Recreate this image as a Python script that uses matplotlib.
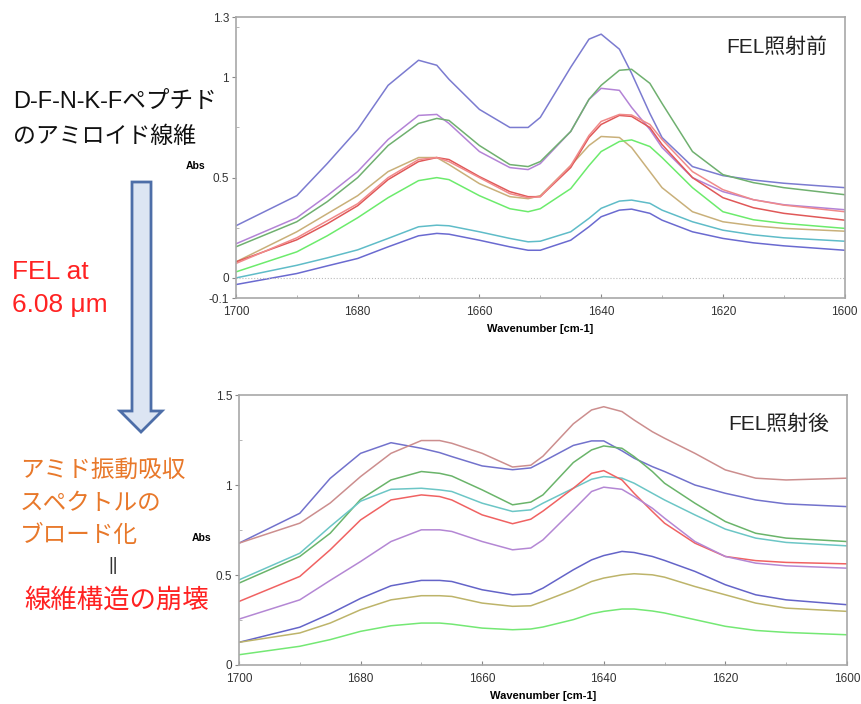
import numpy as np
import matplotlib
matplotlib.use("Agg")
import matplotlib.pyplot as plt
from matplotlib.patches import Polygon
from matplotlib.ticker import MultipleLocator

plt.rcParams['font.family'] = ['Liberation Sans', 'Noto Sans CJK JP', 'DejaVu Sans']

# wavenumber grid (cm-1)
wn = [1700, 1690, 1685, 1680, 1675, 1670, 1667, 1665, 1660, 1655, 1652, 1650,
      1645, 1642, 1640, 1637, 1635, 1632, 1630, 1625, 1620, 1615, 1610, 1600]

# --- before FEL irradiation ---
before_a = [0.26, 0.41, 0.57, 0.74, 0.96, 1.085, 1.06, 0.99, 0.84, 0.75, 0.75, 0.80,
            1.05, 1.19, 1.215, 1.14, 1.02, 0.82, 0.70, 0.555, 0.51, 0.488, 0.472, 0.45]
before_b = [0.17, 0.30, 0.41, 0.53, 0.69, 0.81, 0.815, 0.77, 0.63, 0.55, 0.54, 0.57,
            0.73, 0.89, 0.945, 0.935, 0.85, 0.74, 0.65, 0.50, 0.43, 0.39, 0.365, 0.34]
before_c = [0.155, 0.28, 0.38, 0.50, 0.66, 0.77, 0.795, 0.785, 0.66, 0.565, 0.555, 0.58,
            0.73, 0.89, 0.96, 1.035, 1.04, 0.97, 0.87, 0.63, 0.515, 0.475, 0.45, 0.415]
before_d = [0.08, 0.23, 0.32, 0.41, 0.53, 0.60, 0.60, 0.565, 0.47, 0.405, 0.395, 0.41,
            0.56, 0.66, 0.705, 0.70, 0.65, 0.53, 0.45, 0.33, 0.28, 0.26, 0.247, 0.233]
before_e = [0.08, 0.19, 0.27, 0.36, 0.49, 0.58, 0.60, 0.59, 0.505, 0.43, 0.405, 0.405,
            0.55, 0.70, 0.765, 0.81, 0.805, 0.75, 0.665, 0.50, 0.40, 0.35, 0.322, 0.288]
before_f = [0.072, 0.20, 0.285, 0.37, 0.50, 0.59, 0.60, 0.58, 0.50, 0.42, 0.40, 0.405,
            0.56, 0.71, 0.78, 0.815, 0.812, 0.765, 0.69, 0.53, 0.44, 0.39, 0.363, 0.33]
before_g = [0.03, 0.13, 0.21, 0.30, 0.40, 0.485, 0.50, 0.49, 0.41, 0.345, 0.33, 0.345,
            0.445, 0.56, 0.63, 0.68, 0.688, 0.655, 0.60, 0.45, 0.33, 0.29, 0.272, 0.247]
before_h = [0.0, 0.063, 0.10, 0.14, 0.197, 0.255, 0.263, 0.26, 0.23, 0.197, 0.18, 0.183,
            0.23, 0.297, 0.347, 0.383, 0.388, 0.372, 0.338, 0.28, 0.238, 0.215, 0.20, 0.183]
before_i = [-0.033, 0.022, 0.06, 0.097, 0.155, 0.21, 0.222, 0.218, 0.188, 0.155, 0.138, 0.138,
            0.188, 0.255, 0.305, 0.338, 0.343, 0.322, 0.288, 0.23, 0.197, 0.175, 0.16, 0.138]
before_colors = ['#7b7bd0', '#b383d6', '#6fb06f', '#c9b07a', '#e05858', '#f08a8a',
                 '#6ceb6c', '#5fbcc8', '#6a6ad0']

# --- after FEL irradiation ---
after_p = [0.677, 0.843, 1.037, 1.176, 1.235, 1.204, 1.18, 1.158, 1.106, 1.085, 1.095, 1.13,
           1.22, 1.245, 1.245, 1.19, 1.149, 1.102, 1.075, 1.0, 0.954, 0.917, 0.895, 0.88]
after_q = [0.677, 0.788, 0.9, 1.047, 1.176, 1.247, 1.247, 1.232, 1.176, 1.10, 1.11, 1.16,
           1.34, 1.417, 1.435, 1.408, 1.361, 1.296, 1.26, 1.176, 1.084, 1.038, 1.028, 1.038]
after_r = [0.455, 0.603, 0.732, 0.92, 1.028, 1.075, 1.065, 1.05, 0.973, 0.89, 0.905, 0.945,
           1.125, 1.195, 1.217, 1.204, 1.158, 1.075, 1.01, 0.899, 0.797, 0.732, 0.705, 0.686]
after_s = [0.473, 0.621, 0.769, 0.91, 0.976, 0.982, 0.973, 0.964, 0.899, 0.853, 0.862, 0.899,
           0.982, 1.032, 1.047, 1.038, 1.01, 0.954, 0.917, 0.834, 0.755, 0.705, 0.681, 0.662]
after_t = [0.353, 0.492, 0.64, 0.806, 0.917, 0.945, 0.936, 0.917, 0.834, 0.785, 0.81, 0.855,
           0.982, 1.065, 1.08, 1.028, 0.954, 0.853, 0.788, 0.677, 0.603, 0.58, 0.57, 0.562]
after_u = [0.255, 0.362, 0.47, 0.575, 0.686, 0.751, 0.751, 0.742, 0.686, 0.64, 0.65, 0.695,
           0.862, 0.964, 0.988, 0.976, 0.936, 0.871, 0.816, 0.686, 0.603, 0.566, 0.551, 0.538]
after_v = [0.126, 0.21, 0.285, 0.37, 0.44, 0.47, 0.47, 0.464, 0.418, 0.39, 0.396, 0.427,
           0.529, 0.584, 0.608, 0.631, 0.625, 0.603, 0.581, 0.52, 0.446, 0.39, 0.362, 0.335]
after_w = [0.126, 0.178, 0.233, 0.307, 0.362, 0.385, 0.385, 0.381, 0.344, 0.326, 0.329, 0.353,
           0.418, 0.464, 0.483, 0.501, 0.507, 0.501, 0.488, 0.436, 0.39, 0.344, 0.316, 0.298]
after_x = [0.057, 0.104, 0.141, 0.187, 0.218, 0.233, 0.233, 0.227, 0.205, 0.196, 0.2, 0.211,
           0.252, 0.285, 0.298, 0.311, 0.311, 0.3, 0.289, 0.252, 0.215, 0.192, 0.181, 0.168]
after_colors = ['#7272cc', '#cc8e8e', '#6ab46a', '#6cc6c6', '#f06262', '#b487d4',
                '#6464c8', '#bdb46a', '#74e874']

before = [before_a, before_b, before_c, before_d, before_e, before_f, before_g, before_h, before_i]
after = [after_p, after_q, after_r, after_s, after_t, after_u, after_v, after_w, after_x]

fig = plt.figure(figsize=(8.61, 7.04), dpi=100)
ax1 = fig.add_axes([0.274, 0.5767, 0.707, 0.399])
ax2 = fig.add_axes([0.2776, 0.0554, 0.706, 0.3835])

def style_axes(ax, yticks, ylabels, ylim):
    ax.set_xlim(1700, 1600)
    ax.set_ylim(*ylim)
    ax.set_xticks([1700, 1680, 1660, 1640, 1620, 1600])
    ax.xaxis.set_minor_locator(MultipleLocator(10))
    ax.set_yticks(yticks)
    ax.set_yticklabels(ylabels)
    ax.yaxis.set_minor_locator(MultipleLocator(0.25))
    for s in ax.spines.values():
        s.set_color('#a8a8a8')
        s.set_linewidth(1.2)
    ax.tick_params(axis='x', direction='in', length=3, color='#888888',
                   labelsize=8.5, labelcolor='#333333', pad=6)
    ax.tick_params(axis='x', which='minor', direction='in', length=2, color='#aaaaaa')
    ax.tick_params(axis='y', direction='out', length=3, color='#888888',
                   labelsize=8.5, labelcolor='#333333', pad=2)
    ax.tick_params(axis='y', which='minor', direction='in', length=2, color='#aaaaaa')
    ax.set_xlabel('Wavenumber [cm-1]', fontsize=8, fontweight='bold', labelpad=4)

for vals, col in zip(before, before_colors):
    ax1.plot(wn, vals, color=col, linewidth=1.1)
ax1.axhline(0, color='#bbbbbb', linewidth=0.8, linestyle=':')
style_axes(ax1, [-0.1, 0, 0.5, 1, 1.3], ['-0.1', '0', '0.5', '1', '1.3'], (-0.1, 1.3))
ax1.text(0.971, 0.892, 'FEL照射前', transform=ax1.transAxes, ha='right', va='center',
         fontsize=15, color='#222222')

for vals, col in zip(after, after_colors):
    ax2.plot(wn, vals, color=col, linewidth=1.1)
style_axes(ax2, [0, 0.5, 1, 1.5], ['0', '0.5', '1', '1.5'], (0, 1.5))
ax2.text(0.971, 0.89, 'FEL照射後', transform=ax2.transAxes, ha='right', va='center',
         fontsize=15, color='#222222')

# "Abs" labels
fig.text(196 / 861, 1 - 166 / 704, 'Abs', ha='center', va='center', fontsize=7.5, fontweight='bold')
fig.text(202 / 861, 1 - 538 / 704, 'Abs', ha='center', va='center', fontsize=7.5, fontweight='bold')

# left annotation texts
def ftext(x, y, s, **kw):
    fig.text(x / 861, 1 - y / 704, s, va='center', ha='left', **kw)

ftext(13, 102, 'D-F-N-K-Fペプチド', fontsize=17, color='#111111')
ftext(13, 136, 'のアミロイド線維', fontsize=16.5, color='#111111')
ftext(12, 272, 'FEL at', fontsize=19, color='#ff2222')
ftext(12, 305, '6.08 \u03bcm', fontsize=19, color='#ff2222')
ftext(20, 471, 'アミド振動吸収', fontsize=17, color='#e8782a')
ftext(20, 504, 'スペクトルの', fontsize=17, color='#e8782a')
ftext(20, 536, 'ブロード化', fontsize=17, color='#e8782a')
fig.text(113 / 861, 1 - 566 / 704, '||', ha='center', va='center', fontsize=13, color='#333333')
ftext(24, 600, '線維構造の崩壊', fontsize=19, color='#ff2222')

# block arrow (figure pixel coordinates)
arrow_px = [(132, 182), (151, 182), (151, 411), (162, 411), (141, 432), (120, 411), (132, 411)]
arrow = Polygon([(x / 861, 1 - y / 704) for x, y in arrow_px], closed=True,
                transform=fig.transFigure, facecolor='#dce5f3', edgecolor='#4d6ea8',
                linewidth=2)
fig.patches.append(arrow)

fig.savefig('out.png', dpi=100, facecolor='white')
